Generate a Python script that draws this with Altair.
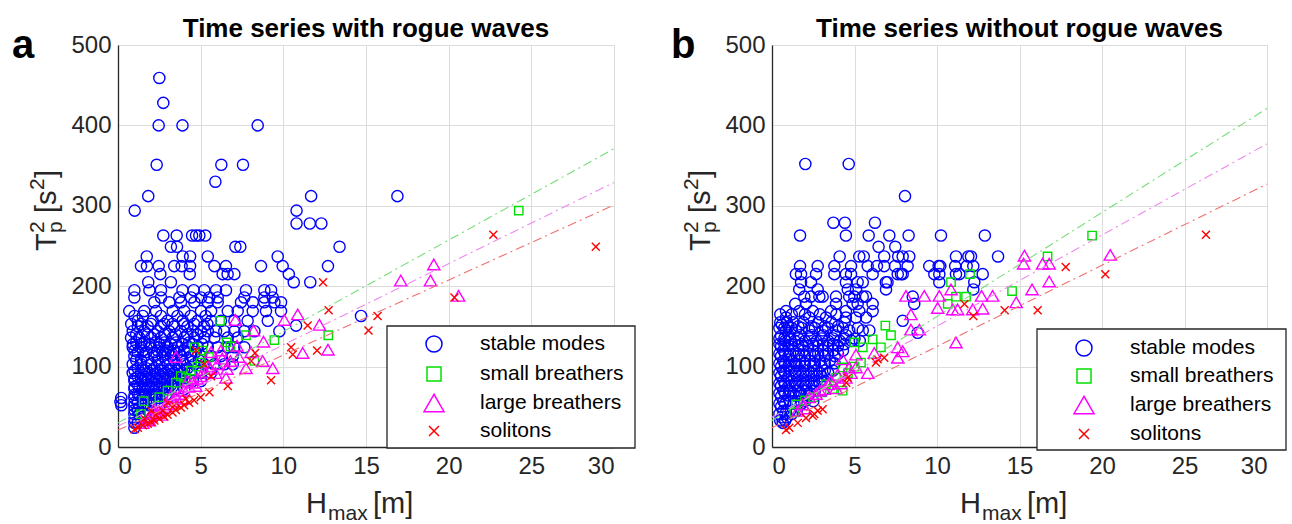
import altair as alt
import pandas as pd

CATS = ["stable modes", "small breathers", "large breathers", "solitons"]
COLORS = ["#0000FF", "#00E000", "#FF00FF", "#FF0000"]
XPATH = "M-1,-1L1,1M-1,1L1,-1"
SHAPES = ["circle", "square", "triangle-up", XPATH]
SIZES = [125, 70, 150, 64]
LEG_SIZES = [256, 196, 400, 100]
LINE_COLORS = ["#77dd77", "#ee88ee", "#ee7070"]

X_TICKS = [0, 5, 10, 15, 20, 25, 30]
Y_TICKS = [0, 100, 200, 300, 400, 500]
PANEL_TITLES = ["Time series with rogue waves", "Time series without rogue waves"]
PANEL_LETTERS = ["a", "b"]

# dash-dot reference lines: value at H=0 and H=30 (small, large, solitons)
LINE_H = [0, 30]
A_LINES = [[30, 371], [26, 329], [21, 301]]
B_LINES = [[33, 421], [37, 377], [24, 327]]

A_STABLE = [
    (2.5, 459), (2.74, 428), (2.46, 400), (3.9, 400), (8.45, 400), (2.34, 351), (6.25, 351), (7.56, 351), (5.89, 330),
    (1.83, 312), (11.68, 312), (16.9, 312), (1.01, 294), (10.8, 294), (10.8, 278), (11.6, 278), (12.3, 278),
    (2.74, 263), (3.55, 263), (4.48, 263), (4.72, 263), (4.92, 263), (5.28, 263),
    (3.2, 249), (3.57, 249), (7.1, 249), (7.4, 249), (13.4, 249),
    (1.74, 237), (3.91, 237), (4.36, 237), (5.43, 237), (9.66, 237),
    (1.39, 225), (1.75, 225), (2.46, 225), (3.4, 225), (3.85, 225), (4.36, 225), (5.83, 225), (6.53, 225), (8.65, 225), (9.96, 225), (12.7, 225),
    (2.56, 215), (4.34, 215), (6.33, 215), (6.63, 215), (7.04, 215), (10.33, 215),
    (1.83, 205), (3.2, 205), (10.63, 205), (11.63, 205),
    (0.99, 195), (1.9, 195), (2.6, 195), (3.9, 195), (4.58, 195), (5.22, 195), (5.93, 195), (6.53, 195), (7.74, 195), (8.85, 195), (9.26, 195),
    (0.99, 186), (2.6, 186), (3.71, 186), (4.42, 186), (5.02, 186), (5.52, 186), (6.03, 186), (7.64, 186), (8.85, 186), (9.36, 186),
    (2.2, 180), (3.1, 180), (3.81, 180), (4.62, 180), (5.43, 180), (6.03, 180), (7.44, 180), (8.15, 180), (8.85, 180), (9.46, 180), (9.86, 180),
    (0.68, 169), (1.59, 169), (2.3, 169), (3.31, 169), (4.01, 169), (5.02, 169), (5.63, 169), (6.64, 169), (7.24, 169), (8.15, 169), (8.95, 169), (9.86, 169),
    (14.7, 163), (10.77, 151), (9.76, 144),
    (1.0, 163), (1.5, 163), (2.6, 163), (3.6, 163), (4.4, 163), (5.3, 163),
    (1.19, 157), (2.1, 157), (3.0, 157), (3.91, 157), (4.82, 157), (5.63, 157), (6.23, 157), (7.04, 157), (7.84, 157), (9.06, 157),
    (0.8, 153), (1.4, 153), (2.0, 153), (2.8, 153), (3.3, 153), (4.0, 153), (4.6, 153), (5.4, 153),
    (1.2, 150), (1.8, 150), (2.6, 150), (3.4, 150), (4.2, 150), (5.2, 150),
    (0.89, 144), (1.59, 144), (2.4, 144), (3.1, 144), (3.81, 144), (4.52, 144), (5.02, 144), (5.43, 144), (5.93, 144), (6.43, 144), (7.04, 144), (7.64, 144), (8.25, 144),
    (1.1, 140), (1.8, 140), (2.2, 140), (2.8, 140), (3.5, 140), (4.2, 140), (4.8, 140),
    (0.79, 136), (1.29, 136), (2.0, 136), (2.6, 136), (3.31, 136), (4.01, 136), (4.62, 136), (5.22, 136), (5.83, 136), (6.64, 136), (7.24, 136),
    (1.1, 130), (1.6, 130), (2.3, 130), (2.8, 130), (3.5, 130), (4.3, 130),
    (0.9, 128), (1.4, 128), (1.9, 128), (2.5, 128), (3.2, 128), (3.9, 128), (4.5, 128), (5.1, 128),
    (0.89, 124), (1.39, 124), (2.0, 124), (2.5, 124), (3.0, 124), (3.61, 124), (4.22, 124), (4.82, 124), (5.43, 124), (6.03, 124), (6.64, 124), (7.04, 124), (7.64, 124),
    (1.0, 120), (1.5, 120), (2.4, 120), (2.9, 120), (3.4, 120), (4.0, 120),
    (1.2, 118), (1.7, 118), (2.2, 118), (2.7, 118), (3.2, 118), (3.7, 118), (4.2, 118), (4.7, 118),
    (0.99, 113), (1.59, 113), (2.2, 113), (2.7, 113), (3.2, 113), (3.81, 113), (4.42, 113), (5.02, 113), (5.63, 113), (6.23, 113), (6.94, 113),
    (1.1, 108), (1.4, 108), (1.8, 108), (2.4, 108), (2.9, 108), (3.4, 108), (3.9, 108), (4.4, 108), (4.9, 108),
    (0.89, 103), (1.39, 103), (2.0, 103), (2.5, 103), (3.0, 103), (3.51, 103), (4.01, 103), (4.62, 103), (5.22, 103), (5.83, 103), (6.43, 103), (6.94, 103),
    (1.2, 98), (1.7, 98), (2.2, 98), (2.7, 98), (3.2, 98), (3.7, 98), (4.2, 98),
    (1.0, 95), (1.6, 95), (2.1, 95), (2.6, 95), (3.1, 95), (3.6, 95), (4.0, 95),
    (0.89, 92), (1.39, 92), (1.9, 92), (2.4, 92), (2.9, 92), (3.41, 92), (3.91, 92), (4.42, 92), (5.02, 92), (5.63, 92),
    (1.2, 87), (1.7, 87), (2.2, 87), (2.7, 87), (3.2, 87), (3.7, 87),
    (1.0, 85), (1.4, 85), (1.8, 85), (2.3, 85), (2.8, 85), (3.3, 85), (3.8, 85),
    (0.99, 82), (1.49, 82), (2.0, 82), (2.5, 82), (3.0, 82), (3.51, 82), (4.01, 82), (4.52, 82), (5.02, 82),
    (1.2, 77), (1.7, 77), (2.2, 77), (2.7, 77), (3.2, 77),
    (1.0, 75), (1.3, 75), (1.8, 75), (2.3, 75), (2.8, 75), (3.3, 75),
    (0.99, 72), (1.49, 72), (2.0, 72), (2.5, 72), (3.0, 72), (3.51, 72), (4.01, 72),
    (1.2, 66), (1.7, 66), (2.2, 66), (2.7, 66),
    (1.0, 65), (1.3, 65), (1.6, 65), (2.3, 65), (2.9, 65),
    (0.2, 61), (0.99, 61), (1.49, 61), (2.0, 61), (2.5, 61), (3.0, 61),
    (0.15, 56), (0.2, 52), (1.0, 55), (1.2, 55), (1.7, 55), (2.2, 55),
    (0.99, 51), (1.49, 51), (2.0, 51), (2.5, 51),
    (1.0, 46), (1.2, 46), (1.8, 46),
    (0.99, 41), (1.29, 41), (1.59, 41),
    (1.0, 35), (1.4, 35),
    (0.99, 30), (1.19, 30), (0.99, 24),
]
A_SMALL = [
    (6.17, 157), (7.74, 139), (9.46, 133), (12.72, 139), (6.57, 130), (4.62, 124), (5.12, 120), (8.25, 107),
    (4.42, 95), (4.11, 86), (1.55, 57), (1.39, 41), (24.24, 294), (3.5, 80), (3.0, 70), (2.5, 62), (5.0, 105),
    (5.5, 112), (6.8, 125), (3.8, 88), (4.8, 100),
]
A_LARGE = [
    (7.1, 158), (8.2, 145), (10.06, 158), (10.87, 165), (12.18, 152), (12.7, 121), (11.17, 117), (8.8, 131),
    (7.2, 126), (8.75, 107), (9.36, 98), (7.74, 98), (6.53, 86), (3.51, 112), (5.63, 118), (8.05, 118), (6.23, 120),
    (17.1, 207), (19.1, 227), (18.9, 207), (20.6, 188),
    (1.5, 30), (1.8, 35), (2.0, 38), (2.3, 42), (2.5, 45), (2.8, 50), (3.0, 53), (3.3, 57), (3.5, 62), (3.8, 66),
    (4.0, 70), (4.3, 75), (4.5, 80), (4.8, 85), (5.0, 88), (5.3, 93), (5.6, 97), (6.0, 103), (2.2, 48), (3.2, 64),
    (4.2, 82), (5.5, 100), (6.3, 110), (6.8, 107), (7.3, 112), (5.9, 92), (4.7, 76), (3.9, 60), (2.6, 40), (1.9, 33), (6.6, 97),
]
A_SOL = [
    (12.4, 205), (12.74, 170), (15.7, 163), (15.15, 145), (11.47, 151), (10.47, 124), (10.57, 115), (12.04, 120),
    (9.26, 83), (8.05, 107), (8.29, 117), (6.64, 76), (5.53, 68), (5.63, 88), (4.72, 120), (5.22, 103),
    (20.35, 186), (22.7, 264), (28.9, 249),
    (1.0, 22), (1.2, 24), (1.5, 27), (1.8, 29), (2.0, 31), (2.2, 33), (2.5, 35), (2.8, 38), (3.0, 40), (3.3, 43),
    (3.5, 46), (3.8, 49), (4.0, 52), (4.3, 55), (4.6, 58), (5.0, 62), (1.6, 35), (2.3, 40), (2.7, 45), (3.4, 52),
    (4.1, 60), (2.0, 45), (3.0, 55),
]

B_STABLE = [
    (2.02, 352), (4.65, 352), (8.06, 312), (3.72, 279), (4.42, 279), (6.24, 279),
    (1.7, 263), (4.48, 263), (5.86, 263), (7.11, 263), (8.28, 263), (10.24, 263), (12.9, 263),
    (6.46, 249), (7.47, 249),
    (4.1, 237), (5.29, 237), (5.56, 237), (6.8, 237), (7.65, 237), (7.92, 237), (8.32, 237), (11.15, 237), (11.9, 237), (12.06, 237), (13.7, 237),
    (1.7, 225), (2.77, 225), (3.78, 225), (4.79, 225), (5.8, 225), (6.36, 225), (6.8, 225), (7.45, 225), (8.22, 225), (9.53, 225), (10.1, 225), (10.2, 225), (11.1, 225), (11.8, 225), (12.2, 225),
    (1.45, 215), (1.76, 215), (2.67, 215), (3.78, 215), (4.48, 215), (4.79, 215), (6.1, 215), (7.62, 215), (7.82, 215), (7.92, 215), (9.84, 215), (10.14, 215), (11.15, 215), (11.35, 215), (12.77, 215),
    (1.76, 205), (2.36, 205), (4.48, 205), (5.19, 205), (5.5, 205), (6.9, 205), (7.0, 205), (10.14, 205), (12.26, 205),
    (1.65, 196), (2.77, 196), (4.59, 196), (5.09, 196), (6.91, 196), (12.2, 196),
    (1.96, 187), (2.36, 187), (2.87, 187), (3.07, 187), (3.88, 187), (4.68, 187), (4.99, 187), (5.5, 187), (5.7, 187), (8.53, 187),
    (1.41, 178), (2.06, 178), (3.88, 178), (4.89, 178), (5.19, 178), (6.1, 178), (8.62, 178),
    (0.85, 169), (1.65, 169), (2.47, 169), (3.58, 169), (4.48, 169), (5.29, 169), (6.1, 169),
    (0.5, 165), (1.2, 165), (2.0, 165), (2.9, 165), (3.9, 165),
    (0.85, 161), (2.26, 161), (3.27, 161), (4.48, 161), (5.09, 161), (5.7, 161), (7.92, 157),
    (0.5, 155), (0.9, 155), (1.3, 155), (1.9, 155), (2.8, 155), (3.6, 155), (4.4, 155),
    (0.6, 152), (1.0, 150), (1.6, 150), (2.4, 150), (3.2, 150), (4.0, 150),
    (0.45, 148), (0.75, 148), (1.2, 148), (1.8, 148), (2.6, 148), (3.4, 148), (4.3, 148), (5.2, 148),
    (0.85, 145), (1.45, 145), (2.26, 145), (3.07, 145), (3.88, 145), (4.68, 145), (5.5, 145), (5.9, 145), (8.83, 142),
    (1.0, 139), (1.7, 139), (2.4, 139), (3.1, 139), (3.8, 139), (4.5, 139),
    (0.55, 138), (0.45, 135), (0.75, 135), (1.1, 135), (1.6, 135), (2.3, 135), (3.0, 135), (3.7, 135), (4.4, 135), (5.0, 135),
    (0.79, 132), (1.39, 132), (2.0, 132), (2.7, 132), (3.41, 132), (4.11, 132), (4.82, 132), (5.32, 132),
    (0.45, 128), (0.75, 128), (1.2, 128), (1.8, 128), (2.5, 128), (3.1, 128), (3.7, 128), (4.4, 128),
    (1.0, 126), (1.6, 126), (2.2, 126), (2.8, 126), (3.4, 126), (4.0, 126),
    (0.55, 125), (0.69, 120), (1.3, 120), (1.9, 120), (2.5, 120), (3.1, 120), (3.71, 120), (4.3, 120),
    (0.45, 116), (0.8, 116), (1.1, 116), (1.6, 116), (2.3, 116), (2.8, 116), (3.4, 116), (4.0, 116),
    (1.0, 113), (1.5, 113), (2.0, 113), (2.6, 113), (3.2, 113), (3.8, 113),
    (0.55, 113), (0.69, 107), (1.19, 107), (1.7, 107), (2.3, 107), (2.9, 107), (3.5, 107),
    (0.45, 104), (0.8, 104), (1.4, 104), (2.0, 104), (2.6, 104), (3.2, 104), (3.8, 104),
    (1.0, 101), (1.5, 101), (2.0, 101), (2.5, 101), (3.0, 101),
    (0.55, 100), (0.69, 95), (1.19, 95), (1.7, 95), (2.2, 95), (2.7, 95), (3.2, 95), (3.7, 95),
    (0.45, 92), (0.8, 92), (1.4, 92), (1.9, 92), (2.4, 92), (2.9, 92), (3.4, 92),
    (1.0, 88), (1.5, 88), (2.0, 88), (2.5, 88), (3.0, 88),
    (0.55, 88), (0.69, 82), (1.19, 82), (1.7, 82), (2.2, 82), (2.7, 82), (3.2, 82),
    (0.45, 79), (0.8, 79), (1.4, 79), (1.9, 79), (2.4, 79), (2.9, 79),
    (1.0, 76), (1.5, 76), (2.0, 76), (2.5, 76),
    (0.55, 76), (0.69, 70), (1.1, 70), (1.6, 70), (2.1, 70), (2.6, 70), (3.1, 70),
    (0.45, 67), (0.8, 67), (1.3, 67), (1.7, 67), (2.3, 67),
    (1.0, 64), (1.4, 64), (1.8, 64), (2.2, 64),
    (0.55, 63), (0.69, 57), (1.1, 57), (1.5, 57), (2.0, 57), (2.5, 57),
    (0.45, 54), (0.8, 54), (1.3, 54), (1.8, 54),
    (0.55, 50), (0.69, 45), (1.1, 45), (1.5, 45),
    (0.45, 41), (0.8, 41), (1.2, 41),
    (0.6, 37), (0.9, 37), (0.5, 33), (0.8, 33), (0.65, 30),
]
B_SMALL = [
    (12.0, 215), (10.85, 205), (11.15, 187), (11.76, 187), (10.65, 178), (6.87, 151), (7.21, 139), (6.6, 124),
    (6.1, 134), (5.5, 124), (4.99, 130), (5.39, 105), (4.28, 99), (3.88, 86), (3.27, 78), (4.28, 70), (1.45, 53),
    (1.35, 43), (3.68, 72), (14.55, 194), (16.7, 237), (19.4, 263), (2.5, 62), (3.0, 68), (4.6, 92), (5.0, 100), (2.0, 58),
]
B_LARGE = [
    (8.12, 188), (9.23, 188), (10.14, 188), (10.85, 196), (10.04, 173), (10.95, 171), (11.25, 171), (12.16, 171),
    (12.77, 172), (12.7, 188), (13.37, 188), (8.42, 165), (8.42, 146), (8.93, 146), (11.15, 130), (6.2, 117),
    (7.62, 124), (7.92, 119), (7.62, 111), (5.8, 92), (5.09, 115), (4.28, 109), (4.68, 99), (5.09, 99), (3.98, 90),
    (3.58, 82), (3.17, 72), (2.67, 66), (2.26, 62), (1.86, 53), (1.55, 45), (3.88, 73), (4.17, 79), (4.48, 86),
    (4.79, 92), (15.3, 238), (15.25, 228), (16.4, 228), (16.8, 228), (15.76, 196), (16.8, 206), (14.8, 180),
    (20.5, 239), (2.0, 48), (2.9, 70), (3.4, 78),
]
B_SOL = [
    (17.8, 224), (20.2, 215), (26.3, 264), (14.1, 170), (16.1, 170), (12.2, 163), (11.66, 178), (6.3, 105),
    (6.8, 111), (6.4, 109), (4.59, 86), (4.5, 80), (3.07, 47), (2.77, 45), (2.56, 41), (2.47, 39), (2.06, 36),
    (1.56, 30), (1.05, 24), (0.85, 21),
]

FONT = "Liberation Sans"
DARK = "#262626"


def txt(s, x, y, size, bold=False, angle=0, align="left", baseline="alphabetic", color=DARK):
    return alt.Chart(pd.DataFrame({"t": [s]})).mark_text(
        font=FONT, fontSize=size, fontWeight="bold" if bold else "normal",
        angle=angle, align=align, baseline=baseline, color=color,
    ).encode(text="t:N", x=alt.value(x), y=alt.value(y))


def panel(groups, lines, title, letter, W, H, leg, first):
    xs = alt.Scale(domain=[0, 30], nice=False, zero=False)
    ys = alt.Scale(domain=[0, 500], nice=False, zero=False)
    common = dict(grid=True, gridColor="#dcdcdc", gridWidth=1, domainColor=DARK, domainWidth=1.3,
                  ticks=False, labelFont=FONT, labelFontSize=24, labelColor=DARK, title=None)
    xa = alt.Axis(values=X_TICKS, labelPadding=7, **common)
    ya = alt.Axis(values=Y_TICKS, labelPadding=7, **common)
    layers = []
    if first:
        layers.append(alt.Chart(pd.DataFrame({"t": [0]})).mark_rect(fill="white", opacity=0).encode(
            x=alt.value(-117), x2=alt.value(-116), y=alt.value(-44), y2=alt.value(-43)))
    for i, pts in enumerate(groups):
        df = pd.DataFrame(pts, columns=["H", "T2"])
        layers.append(alt.Chart(df).mark_point(
            shape=SHAPES[i], color=COLORS[i], size=SIZES[i], filled=False, strokeWidth=1.4, opacity=1,
        ).encode(x=alt.X("H:Q", scale=xs, axis=xa), y=alt.Y("T2:Q", scale=ys, axis=ya)))
    for j, ln in enumerate(lines):
        df = pd.DataFrame({"H": LINE_H, "T2": ln})
        layers.append(alt.Chart(df).mark_line(
            color=LINE_COLORS[j], strokeWidth=1.1, strokeDash=[9, 4, 2, 4],
        ).encode(x=alt.X("H:Q", scale=xs, axis=xa), y=alt.Y("T2:Q", scale=ys, axis=ya)))
    # legend
    lx0, ly0, lx1, ly1, sx, tx, rows = leg
    layers.append(alt.Chart(pd.DataFrame({"t": [0]})).mark_rect(
        fill="white", stroke=DARK, strokeWidth=1.3).encode(
        x=alt.value(lx0), x2=alt.value(lx1), y=alt.value(ly0), y2=alt.value(ly1)))
    for i, c in enumerate(CATS):
        layers.append(alt.Chart(pd.DataFrame({"t": [c]})).mark_point(
            shape=SHAPES[i], color=COLORS[i], size=LEG_SIZES[i], filled=False, strokeWidth=1.5, opacity=1,
        ).encode(x=alt.value(sx), y=alt.value(rows[i])))
        layers.append(txt(c, tx, rows[i], 21, baseline="middle", color="black"))
    # titles
    layers.append(txt(title, W / 2, -16, 26, bold=True, align="center", baseline="middle", color="black"))
    layers.append(txt(letter, -106 if first else -101, 13, 40, bold=True, color="black"))
    # x axis title: H_max [m]
    layers.append(txt("H", 188, 468, 29))
    layers.append(txt("max", 210, 475, 21))
    layers.append(txt("[m]", 255, 468, 29))
    # y axis title: T_p^2 [s^2], rotated
    bx = -62
    y0 = 206
    layers.append(txt("T", bx, y0, 29, angle=270))
    layers.append(txt("2", bx - 12, y0 - 18, 21, angle=270))
    layers.append(txt("p", bx + 6, y0 - 18, 21, angle=270))
    layers.append(txt("[s", bx, y0 - 38, 29, angle=270))
    layers.append(txt("2", bx - 12, y0 - 61, 21, angle=270))
    layers.append(txt("]", bx, y0 - 73, 29, angle=270))
    return alt.layer(*layers).properties(width=W, height=H)


pa = panel([A_STABLE, A_SMALL, A_LARGE, A_SOL], A_LINES, PANEL_TITLES[0], PANEL_LETTERS[0], 496, 402,
           (269, 281, 517, 403, 316, 362, [299, 329, 358, 386]), True)
pb = panel([B_STABLE, B_SMALL, B_LARGE, B_SOL], B_LINES, PANEL_TITLES[1], PANEL_LETTERS[1], 495, 402,
           (265, 284, 514, 405, 312, 358, [303, 331, 360, 389]), False)

chart = alt.hconcat(pa, pb, spacing=158, bounds="flush").properties(
    padding={"left": 0, "top": 0, "right": 0, "bottom": 0}
).configure_view(stroke=None).configure(background="white")

chart.save("out.html", embed_options={"renderer": "svg", "actions": False})
